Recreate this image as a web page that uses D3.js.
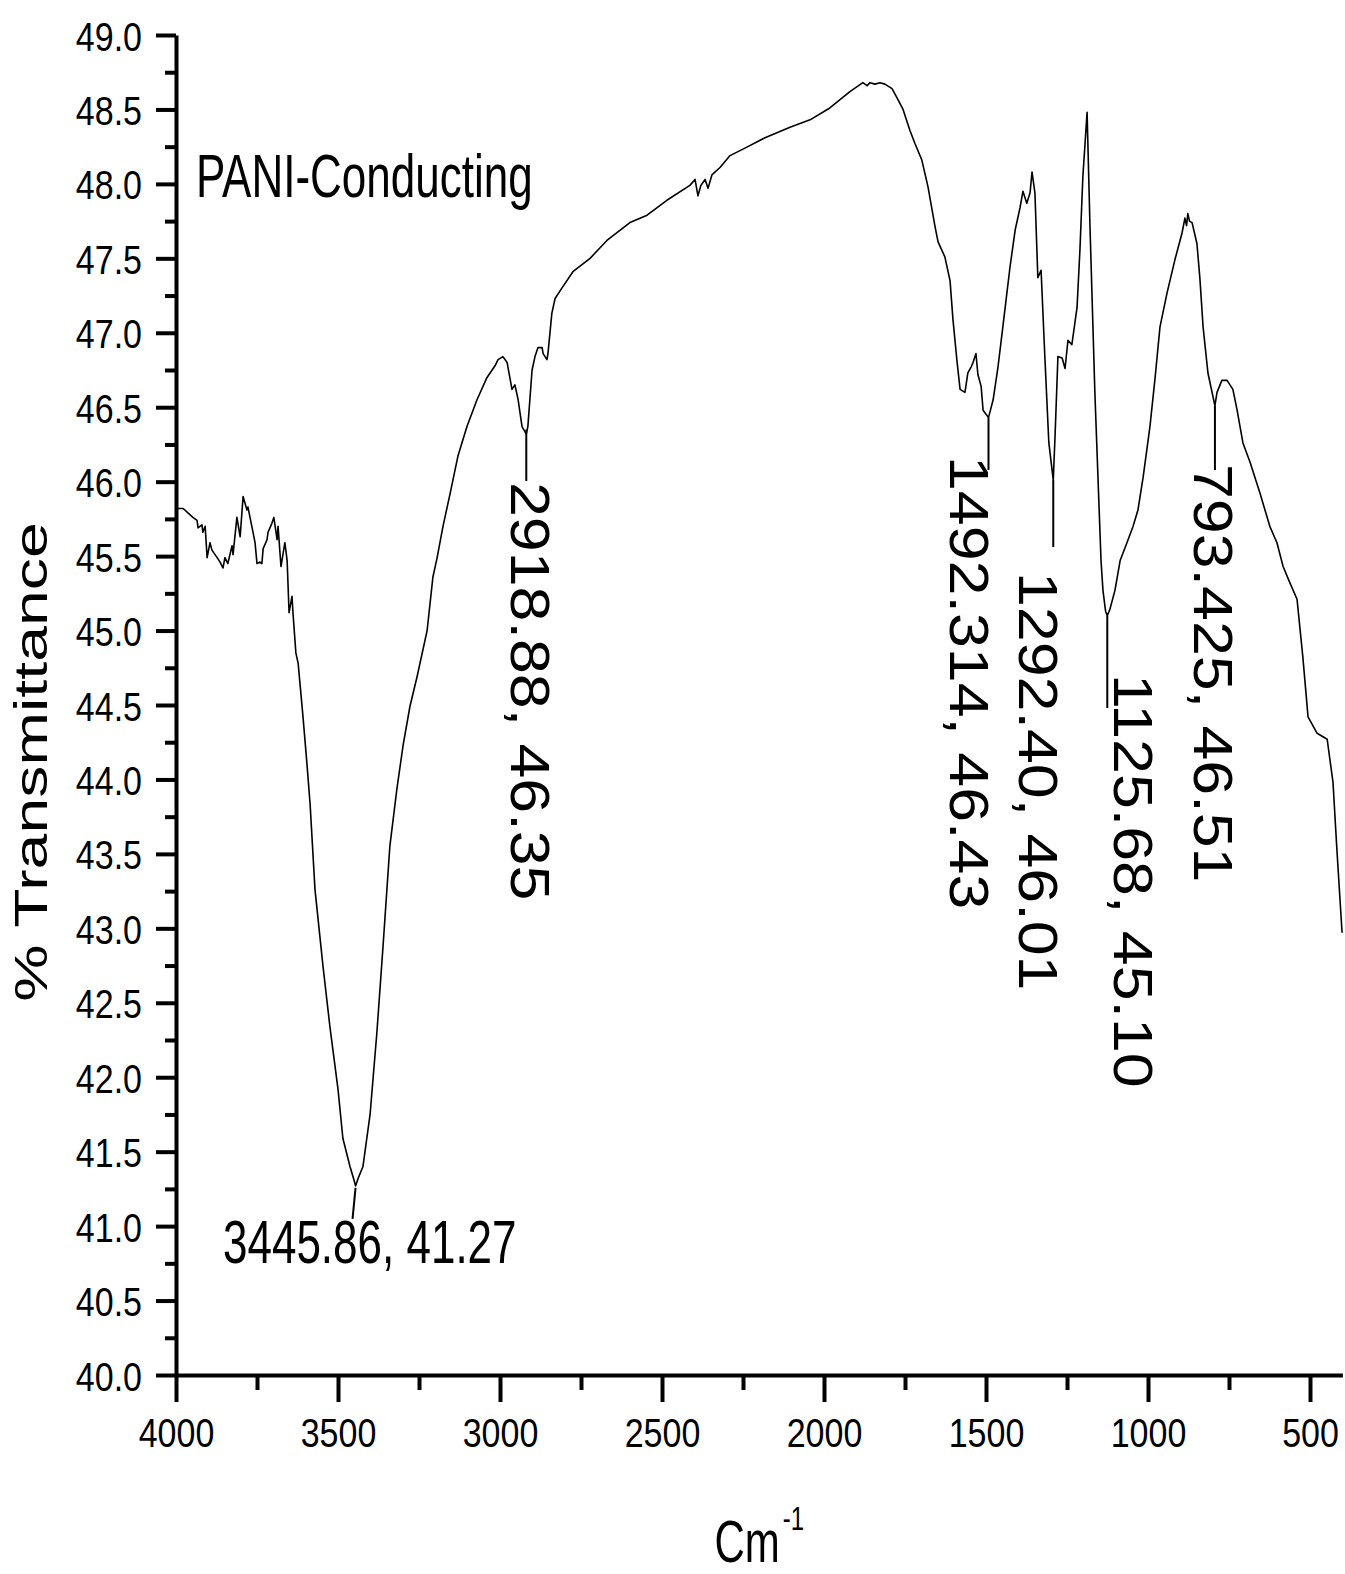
<!DOCTYPE html>
<html>
<head>
<meta charset="utf-8">
<script src="https://cdn.jsdelivr.net/npm/d3@7"></script>
<style>
  html, body { margin: 0; padding: 0; background: #fff; }
  svg { display: block; }
</style>
</head>
<body>
<div id="chart"></div>
<script>
'use strict';

// Spectrum: wavenumber (cm-1) and % transmittance.
var wavenumber = [
  4000, 3978, 3948, 3935, 3932, 3920, 3917, 3910, 3904, 3895, 3889, 3873, 3864, 3855, 3849, 3840,
  3827, 3824, 3812, 3802, 3793, 3781, 3778, 3765, 3756, 3750, 3741, 3735, 3731, 3719, 3716, 3704,
  3698, 3688, 3685, 3676, 3664, 3657, 3651, 3642, 3639, 3630, 3623, 3608, 3596, 3586, 3571, 3546,
  3525, 3500, 3485, 3463, 3452, 3445.86, 3438, 3423, 3401, 3380, 3361, 3340, 3318, 3299, 3278, 3256,
  3225, 3207, 3194, 3176, 3154, 3130, 3102, 3071, 3040, 3015, 3006, 2991, 2978, 2963, 2954, 2944,
  2932, 2918.88, 2914, 2901, 2892, 2883, 2870, 2867, 2855, 2852, 2840, 2830, 2809, 2775, 2722, 2670,
  2599, 2546, 2485, 2414, 2398, 2389, 2380, 2367, 2358, 2346, 2321, 2290, 2244, 2182, 2105, 2043,
  1982, 1920, 1880, 1867, 1858, 1843, 1827, 1812, 1790, 1775, 1756, 1735, 1719, 1698, 1679, 1657,
  1648, 1627, 1611, 1602, 1590, 1580, 1565, 1556, 1546, 1540, 1531, 1525, 1515, 1509, 1492.314, 1478,
  1463, 1448, 1426, 1410, 1395, 1386, 1374, 1364, 1358, 1349, 1340, 1330, 1318, 1306, 1292.40, 1287,
  1278, 1265, 1256, 1247, 1235, 1219, 1210, 1201, 1188, 1179, 1164, 1145, 1139, 1131, 1125.68, 1118,
  1102, 1086, 1065, 1046, 1031, 1015, 994, 978, 963, 941, 917, 895, 886, 881, 877, 872,
  864, 849, 840, 830, 815, 793.425, 787, 772, 756, 738, 725, 707, 685, 654, 624, 602,
  583, 562, 540, 522, 506, 478, 447, 429, 417, 401
];
var transmittance = [
  45.82, 45.82, 45.76, 45.74, 45.69, 45.71, 45.66, 45.70, 45.49, 45.59, 45.54, 45.49, 45.46, 45.42, 45.49, 45.45,
  45.57, 45.51, 45.76, 45.63, 45.90, 45.81, 45.83, 45.69, 45.59, 45.45, 45.46, 45.45, 45.55, 45.61, 45.66, 45.72,
  45.76, 45.61, 45.70, 45.43, 45.59, 45.47, 45.12, 45.23, 45.12, 44.85, 44.78, 44.42, 44.11, 43.83, 43.26, 42.74,
  42.34, 41.92, 41.59, 41.40, 41.32, 41.27, 41.32, 41.40, 41.75, 42.30, 42.88, 43.55, 43.94, 44.23, 44.49, 44.69,
  45.00, 45.36, 45.49, 45.70, 45.92, 46.17, 46.37, 46.55, 46.70, 46.78, 46.82, 46.84, 46.80, 46.62, 46.65, 46.55,
  46.37, 46.32, 46.37, 46.75, 46.84, 46.90, 46.90, 46.86, 46.82, 46.86, 47.13, 47.23, 47.30, 47.41, 47.50, 47.62,
  47.74, 47.79, 47.89, 47.99, 48.03, 47.92, 47.99, 48.03, 47.97, 48.06, 48.11, 48.19, 48.24, 48.31, 48.38, 48.43,
  48.51, 48.62, 48.68, 48.66, 48.68, 48.67, 48.68, 48.67, 48.64, 48.58, 48.50, 48.36, 48.27, 48.16, 47.98, 47.71,
  47.61, 47.51, 47.35, 47.09, 46.82, 46.62, 46.60, 46.73, 46.77, 46.80, 46.86, 46.72, 46.64, 46.48, 46.43, 46.55,
  46.77, 47.04, 47.44, 47.69, 47.84, 47.95, 47.87, 47.94, 48.08, 47.94, 47.37, 47.42, 46.82, 46.26, 46.01, 46.30,
  46.84, 46.83, 46.76, 46.95, 46.92, 47.17, 47.56, 48.05, 48.48, 47.71, 46.60, 45.47, 45.27, 45.13, 45.10, 45.14,
  45.27, 45.47, 45.59, 45.70, 45.81, 46.03, 46.37, 46.70, 47.04, 47.27, 47.49, 47.67, 47.77, 47.72, 47.80, 47.75,
  47.74, 47.60, 47.37, 47.04, 46.73, 46.51, 46.60, 46.68, 46.68, 46.62, 46.48, 46.26, 46.13, 45.92, 45.70, 45.59,
  45.43, 45.32, 45.21, 44.82, 44.42, 44.31, 44.27, 43.98, 43.53, 42.97
];

// Labelled peaks
var peakWavenumber = [3445.86, 2918.88, 1492.314, 1292.40, 1125.68, 793.425];
var peakValue      = [41.27, 46.35, 46.43, 46.01, 45.10, 46.51];
var peakLabel      = ["3445.86, 41.27", "2918.88, 46.35", "1492.314, 46.43",
                      "1292.40, 46.01", "1125.68, 45.10", "793.425, 46.51"];

// Axis ticks
var xTickValues  = [4000, 3500, 3000, 2500, 2000, 1500, 1000, 500];
var xMinorValues = [3750, 3250, 2750, 2250, 1750, 1250, 750];
var yTickValues  = [40.0, 40.5, 41.0, 41.5, 42.0, 42.5, 43.0, 43.5, 44.0, 44.5,
                    45.0, 45.5, 46.0, 46.5, 47.0, 47.5, 48.0, 48.5, 49.0];
var yMinorValues = [40.25, 40.75, 41.25, 41.75, 42.25, 42.75, 43.25, 43.75, 44.25,
                    44.75, 45.25, 45.75, 46.25, 46.75, 47.25, 47.75, 48.25, 48.75];

var sampleName = "PANI-Conducting";
var yTitle     = "% Transmittance";

var ftirApp = {};
ftirApp.const = {};
ftirApp.util  = {};

ftirApp.const.WIDTH  = 1345;
ftirApp.const.HEIGHT = 1574;
ftirApp.const.FONT   = "'Liberation Sans', Arial, sans-serif";
ftirApp.const.PLOT   = { left: 176, right: 1342.4, top: 35, bottom: 1375 };

// How each peak label sits next to its leader line (pixels, screen space).
// rotated labels: dx = baseline offset from the line, top = where the text starts,
// lineEnd = where the leader line stops.
ftirApp.const.peakLayout = [
  { rotated: false, x: 223, baseline: 1263, lineDx: -3, lineDy: 33 },
  { rotated: true, dx: -15, top: 482, lineEnd: 481 },
  { rotated: true, dx: -38, top: 456, lineEnd: 470 },
  { rotated: true, dx: -34, top: 572, lineEnd: 547 },
  { rotated: true, dx: 7,   top: 674, lineEnd: 708 },
  { rotated: true, dx: -21, top: 464, lineEnd: 470 }
];

// The original figure is stretched vertically, so every text gets a y-scale.
ftirApp.util.stretchedText = function (parent, str, x, y, size, stretch, rotate, anchor) {
  var tf = "translate(" + x + "," + y + ") scale(1," + stretch + ")";
  if (rotate) tf += " rotate(" + rotate + ")";
  return parent.append("text")
    .attr("transform", tf)
    .attr("font-family", ftirApp.const.FONT)
    .attr("font-size", size)
    .attr("text-anchor", anchor || "start")
    .attr("fill", "#000")
    .text(str);
};

ftirApp.draw = function () {
  var P = ftirApp.const.PLOT;
  var svg = d3.select("#chart").append("svg")
    .attr("width", ftirApp.const.WIDTH)
    .attr("height", ftirApp.const.HEIGHT);

  var x = d3.scaleLinear().domain([4000, 400]).range([P.left, P.right]);
  var y = d3.scaleLinear().domain([40, 49]).range([P.bottom, P.top]);

  // minor ticks first, majors with labels on top
  svg.append("g")
    .attr("transform", "translate(" + P.left + ",0)")
    .call(d3.axisLeft(y).tickValues(yMinorValues).tickSize(11).tickSizeOuter(0).tickFormat(""))
    .call(function (g) { g.select(".domain").remove(); });
  svg.append("g")
    .attr("transform", "translate(0," + P.bottom + ")")
    .call(d3.axisBottom(x).tickValues(xMinorValues).tickSize(15).tickSizeOuter(0).tickFormat(""))
    .call(function (g) { g.select(".domain").remove(); });

  var yAxis = svg.append("g")
    .attr("transform", "translate(" + P.left + ",0)")
    .call(d3.axisLeft(y).tickValues(yTickValues).tickSize(20).tickSizeOuter(0).tickFormat(d3.format(".1f")));
  yAxis.selectAll("text")
    .attr("x", null).attr("dy", null)
    .attr("transform", "translate(-34,15) scale(1,1.22)")
    .attr("text-anchor", "end");

  var xAxis = svg.append("g")
    .attr("transform", "translate(0," + P.bottom + ")")
    .call(d3.axisBottom(x).tickValues(xTickValues).tickSize(27).tickSizeOuter(0).tickFormat(d3.format("d")));
  xAxis.selectAll("text")
    .attr("y", null).attr("dy", null)
    .attr("transform", "translate(0,72) scale(1,1.22)");

  svg.selectAll(".tick text")
    .attr("font-family", ftirApp.const.FONT)
    .attr("font-size", 34)
    .attr("fill", "#000");
  svg.selectAll(".tick line").attr("stroke", "#000").attr("stroke-width", 4);
  svg.selectAll(".domain").attr("stroke", "#000").attr("stroke-width", 4);
  svg.selectAll("g").attr("font-size", null).attr("font-family", null);

  // spectrum
  var points = wavenumber.map(function (w, i) { return [w, transmittance[i]]; });
  svg.append("path")
    .datum(points)
    .attr("fill", "none")
    .attr("stroke", "#000")
    .attr("stroke-width", 1.6)
    .attr("stroke-linejoin", "round")
    .attr("d", d3.line().x(function (d) { return x(d[0]); }).y(function (d) { return y(d[1]); }));

  // peak annotations
  peakWavenumber.forEach(function (w, i) {
    var lay = ftirApp.const.peakLayout[i];
    var px = x(w), py = y(peakValue[i]);
    if (lay.rotated) {
      svg.append("line")
        .attr("x1", px).attr("y1", py).attr("x2", px).attr("y2", lay.lineEnd)
        .attr("stroke", "#000").attr("stroke-width", 2);
      ftirApp.util.stretchedText(svg, peakLabel[i], px + lay.dx, lay.top, 56, 1.12, 90);
    } else {
      svg.append("line")
        .attr("x1", px).attr("y1", py + 2).attr("x2", px + lay.lineDx).attr("y2", py + lay.lineDy)
        .attr("stroke", "#000").attr("stroke-width", 2);
      ftirApp.util.stretchedText(svg, peakLabel[i], lay.x, lay.baseline, 44, 1.4);
    }
  });

  ftirApp.util.stretchedText(svg, sampleName, 196, 197, 44, 1.4);
  ftirApp.util.stretchedText(svg, yTitle, 47, (P.top + P.bottom) / 2 + 57, 46, 1.4, -90, "middle");

  var xt = ftirApp.util.stretchedText(svg, "Cm", (P.left + P.right) / 2, 1562, 42, 1.4, 0, "middle");
  xt.append("tspan").attr("font-size", 24).attr("dy", -23).attr("dx", 3).text("-1");
};

ftirApp.draw();
</script>
</body>
</html>
